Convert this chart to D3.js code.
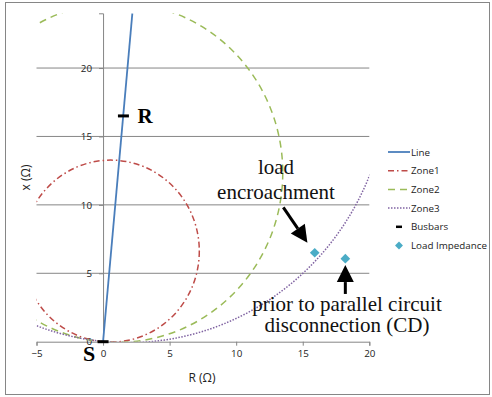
<!DOCTYPE html>
<html>
<head>
<meta charset="utf-8">
<script src="https://cdn.jsdelivr.net/npm/d3@7"></script>
<style>
  body { margin: 0; background: #fff; }
  svg { display: block; }
</style>
</head>
<body>
<div id="chart"></div>
<script>
// ---- data (R, x in ohms) ----
var lineR = [0, 2.2];
var lineX = [0, 24];

var zoneNames = ["Zone1", "Zone2", "Zone3"];
var zoneCenterR = [0.58, 1.09, 1.86];
var zoneCenterX = [6.62, 12.36, 19.53];
var zoneRadius = [6.65, 12.41, 19.6];

var busNames = ["S", "R"];
var busR = [0, 1.53];
var busX = [0, 16.5];

var loadR = [15.9, 18.2];
var loadX = [6.5, 6.07];

var xTicks = [-5, 0, 5, 10, 15, 20];
var yTicks = [0, 5, 10, 15, 20];

var legendNames = ["Line", "Zone1", "Zone2", "Zone3", "Busbars", "Load Impedance"];

// ---- styles ----
var zoneColors = ["#be4b48", "#9bbb59", "#8064a2"];
var zoneDash = ["6,3,1.5,3", "7,5", "1.5,1.5"];
var lineColor = "#4a7ebb";
var loadColor = "#4bacc6";
var gridColor = "#868686";
var tickFont = "'Open Sans', sans-serif";
var serif = "'Liberation Serif', 'Times New Roman', serif";

var W = 492, H = 397;
var svg = d3.select("#chart").append("svg")
    .attr("width", W)
    .attr("height", H);

// chart border
svg.append("rect")
    .attr("x", 5.5).attr("y", 2.5)
    .attr("width", 484).attr("height", 392)
    .style("fill", "#fff")
    .style("stroke", "#868686")
    .style("stroke-width", 1);

var x = d3.scaleLinear().domain([-5, 20]).range([36.5, 369.3]);
var y = d3.scaleLinear().domain([0, 24]).range([341.7, 13.3]);

// clip for plot area
svg.append("clipPath").attr("id", "plotclip")
  .append("rect")
    .attr("x", x(-5)).attr("y", y(24))
    .attr("width", x(20) - x(-5))
    .attr("height", y(0) - y(24));

// horizontal gridlines
svg.append("g").selectAll("line")
    .data(yTicks.filter(function(d) { return d > 0; }))
    .join("line")
    .attr("x1", x(-5)).attr("x2", x(20))
    .attr("y1", function(d) { return y(d); })
    .attr("y2", function(d) { return y(d); })
    .style("stroke", gridColor)
    .style("stroke-width", 1);

// axes through origin
var xAxis = svg.append("g")
    .attr("transform", "translate(0," + y(0) + ")")
    .call(d3.axisBottom(x).tickValues(xTicks).tickSize(4).tickPadding(4));
var yAxis = svg.append("g")
    .attr("transform", "translate(" + x(0) + ",0)")
    .call(d3.axisLeft(y).tickValues(yTicks).tickSize(4).tickPadding(7));

[xAxis, yAxis].forEach(function(a) {
    a.select(".domain").style("stroke", gridColor);
    a.selectAll(".tick line").style("stroke", gridColor);
    a.selectAll(".tick text")
        .style("font-family", tickFont)
        .style("font-size", "9.8px")
        .style("fill", "#222");
});

// axis titles
svg.append("text")
    .attr("x", 202).attr("y", 382)
    .attr("text-anchor", "middle")
    .style("font-family", tickFont)
    .style("font-size", "12px")
    .style("fill", "#222")
    .text("R (\u03A9)");

svg.append("text")
    .attr("transform", "translate(30," + ((y(0) + y(24)) / 2) + ") rotate(-90)")
    .attr("text-anchor", "middle")
    .style("font-family", tickFont)
    .style("font-size", "12px")
    .style("fill", "#222")
    .text("x (\u03A9)");

var plot = svg.append("g").attr("clip-path", "url(#plotclip)");

// zone circles
plot.selectAll("ellipse")
    .data(zoneNames)
    .join("ellipse")
    .attr("cx", function(d, i) { return x(zoneCenterR[i]); })
    .attr("cy", function(d, i) { return y(zoneCenterX[i]); })
    .attr("rx", function(d, i) { return x(zoneRadius[i]) - x(0); })
    .attr("ry", function(d, i) { return y(0) - y(zoneRadius[i]); })
    .style("fill", "none")
    .style("stroke", function(d, i) { return zoneColors[i]; })
    .style("stroke-width", 1.5)
    .style("stroke-dasharray", function(d, i) { return zoneDash[i]; });

// line impedance
plot.append("path")
    .datum(d3.range(lineR.length))
    .attr("d", d3.line()
        .x(function(i) { return x(lineR[i]); })
        .y(function(i) { return y(lineX[i]); }))
    .style("fill", "none")
    .style("stroke", lineColor)
    .style("stroke-width", 1.8);

// busbars
svg.append("g").selectAll("line")
    .data(busNames)
    .join("line")
    .attr("x1", function(d, i) { return x(busR[i]) - 5.5; })
    .attr("x2", function(d, i) { return x(busR[i]) + 5.5; })
    .attr("y1", function(d, i) { return y(busX[i]); })
    .attr("y2", function(d, i) { return y(busX[i]); })
    .style("stroke", "#000")
    .style("stroke-width", 3);

// load impedance points
var diamond = d3.symbol().type(d3.symbolDiamond2).size(60);
svg.append("g").selectAll("path")
    .data(loadR)
    .join("path")
    .attr("d", diamond)
    .attr("transform", function(d, i) { return "translate(" + x(loadR[i]) + "," + y(loadX[i]) + ")"; })
    .style("fill", loadColor);

// busbar labels
svg.append("text")
    .attr("x", x(busR[1]) + 14).attr("y", y(busX[1]) + 7)
    .style("font-family", serif)
    .style("font-weight", "bold")
    .style("font-size", "21px")
    .text(busNames[1]);
svg.append("text")
    .attr("x", x(busR[0]) - 20).attr("y", y(busX[0]) + 19)
    .style("font-family", serif)
    .style("font-weight", "bold")
    .style("font-size", "22px")
    .text(busNames[0]);

// annotations
function annot(lines, cx, baseY, gap) {
    var t = svg.append("text")
        .attr("text-anchor", "middle")
        .style("font-family", serif)
        .style("font-size", "21px")
        .style("fill", "#111");
    lines.forEach(function(s, i) {
        t.append("tspan").attr("x", cx).attr("y", baseY + i * gap).text(s);
    });
}
annot(["load", "encroachment"], 276, 173.5, 25);
annot(["prior to parallel circuit", "disconnection (CD)"], 347, 311, 20.5);

function arrow(r1, x1, r2, x2) {
    var px1 = x(r1), py1 = y(x1), px2 = x(r2), py2 = y(x2);
    var ang = Math.atan2(py2 - py1, px2 - px1);
    var hl = 17, hw = 8.5;
    var bx = px2 - hl * Math.cos(ang), by = py2 - hl * Math.sin(ang);
    svg.append("line")
        .attr("x1", px1).attr("y1", py1)
        .attr("x2", bx).attr("y2", by)
        .style("stroke", "#000")
        .style("stroke-width", 3);
    svg.append("polygon")
        .attr("points", [
            [px2, py2],
            [bx + hw * Math.sin(ang), by - hw * Math.cos(ang)],
            [bx - hw * Math.sin(ang), by + hw * Math.cos(ang)]
        ].map(function(p) { return p.join(","); }).join(" "))
        .style("fill", "#000");
}
arrow(13.54, 9.82, 15.35, 7.24);
arrow(18.2, 3.49, 18.2, 5.6);

// legend
var legend = svg.append("g").attr("transform", "translate(388,152)");
var rows = legend.selectAll("g")
    .data(legendNames)
    .join("g")
    .attr("transform", function(d, i) { return "translate(0," + (i * 18.7) + ")"; });

rows.append("text")
    .attr("x", 23).attr("y", 3.5)
    .style("font-family", tickFont)
    .style("font-size", "9.8px")
    .style("fill", "#222")
    .text(function(d) { return d; });

rows.filter(function(d, i) { return i === 0; })
    .append("line")
    .attr("x1", 0).attr("x2", 22)
    .style("stroke", lineColor).style("stroke-width", 1.8);
rows.filter(function(d, i) { return i >= 1 && i <= 3; })
    .append("line")
    .attr("x1", 0).attr("x2", 22)
    .style("stroke", function(d, i) { return zoneColors[i]; })
    .style("stroke-width", 1.5)
    .style("stroke-dasharray", function(d, i) { return zoneDash[i]; });
rows.filter(function(d) { return d === "Busbars"; })
    .append("line")
    .attr("x1", 8).attr("x2", 14)
    .style("stroke", "#000").style("stroke-width", 2.5);
rows.filter(function(d) { return d === "Load Impedance"; })
    .append("path")
    .attr("d", d3.symbol().type(d3.symbolDiamond2).size(40))
    .attr("transform", "translate(11,0)")
    .style("fill", loadColor);
</script>
</body>
</html>
